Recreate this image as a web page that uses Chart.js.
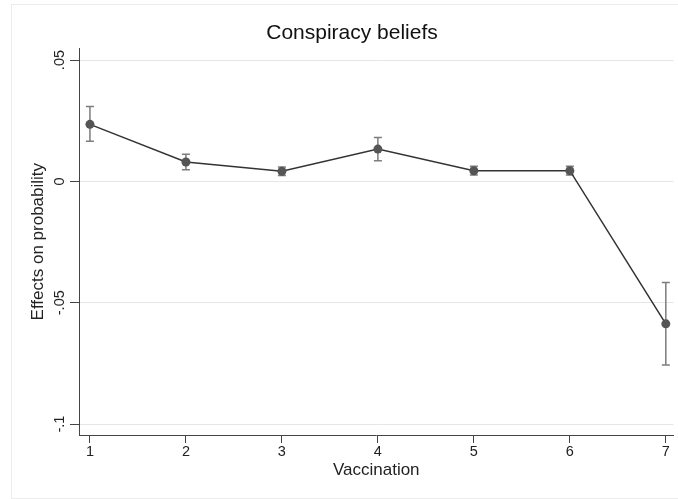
<!DOCTYPE html>
<html>
<head>
<meta charset="utf-8">
<script src="https://cdn.jsdelivr.net/npm/chart.js@4/dist/chart.umd.min.js"></script>
<style>
  body { margin: 0; background: #fff; }
  #frame { position: absolute; left: 11px; top: 4px; width: 700px; height: 493px; border: 1px solid #ececec; }
  #wrap { position: absolute; left: 0; top: 0; width: 678px; height: 499px; }
</style>
</head>
<body>
<div id="frame"></div>
<div id="wrap"><canvas id="chart" width="678" height="499"></canvas></div>
<script>
// values
const categories = [1, 2, 3, 4, 5, 6, 7];
const effects = [0.0235, 0.0080, 0.0042, 0.0133, 0.0044, 0.0044, -0.0587];
const upper = [0.0309, 0.0112, 0.0059, 0.0181, 0.0062, 0.0062, -0.0417];
const lower = [0.0165, 0.0048, 0.0024, 0.0085, 0.0026, 0.0026, -0.0757];
const yTickValues = [-0.1, -0.05, 0, 0.05];
const yTickLabels = ["-.1", "-.05", "0", ".05"];

const FONT = "'Liberation Sans', Arial, sans-serif";

// error bars (rcap), drawn under line and markers
const errorBars = {
    id: "errorBars",
    beforeDatasetsDraw(chart) {
        const { ctx, scales: { x, y } } = chart;
        ctx.save();
        ctx.strokeStyle = "#7d7d7d";
        ctx.lineWidth = 1.5;
        categories.forEach((c, i) => {
            const px = x.getPixelForValue(c);
            const top = y.getPixelForValue(upper[i]);
            const bot = y.getPixelForValue(lower[i]);
            ctx.beginPath();
            ctx.moveTo(px, top); ctx.lineTo(px, bot);
            ctx.moveTo(px - 4, top); ctx.lineTo(px + 4, top);
            ctx.moveTo(px - 4, bot); ctx.lineTo(px + 4, bot);
            ctx.stroke();
        });
        ctx.restore();
    }
};

// vertical y tick labels, Stata style
const yLabels = {
    id: "yLabels",
    afterDraw(chart) {
        const { ctx, scales: { y } } = chart;
        ctx.save();
        ctx.fillStyle = "#222";
        ctx.font = "14.5px " + FONT;
        ctx.textAlign = "center";
        ctx.textBaseline = "middle";
        yTickValues.forEach((v, i) => {
            ctx.save();
            ctx.translate(60, y.getPixelForValue(v));
            ctx.rotate(-Math.PI / 2);
            ctx.fillText(yTickLabels[i], 0, 0);
            ctx.restore();
        });
        ctx.restore();
    }
};

const chart = new Chart(document.getElementById("chart"), {
    type: "line",
    plugins: [errorBars, yLabels],
    data: {
        datasets: [{
            data: categories.map((c, i) => ({ x: c, y: effects[i] })),
            borderColor: "#333",
            borderWidth: 1.5,
            pointRadius: 4.5,
            pointBackgroundColor: "#555",
            pointBorderColor: "#555",
            pointBorderWidth: 0,
            tension: 0,
            clip: false
        }]
    },
    options: {
        responsive: false,
        animation: false,
        layout: { padding: { left: 28, right: 2, top: 0, bottom: 0 } },
        plugins: {
            legend: { display: false },
            tooltip: { enabled: false },
            title: {
                display: true,
                text: "Conspiracy beliefs",
                color: "#111",
                font: { family: FONT, size: 21, weight: "normal", lineHeight: 1.2 },
                padding: { top: 20.8, bottom: 2.4 }
            }
        },
        scales: {
            x: {
                type: "linear",
                min: 0.886,
                max: 7.08,
                afterBuildTicks: s => { s.ticks = categories.map(v => ({ value: v })); },
                afterFit: s => { s.height = 64; },
                grid: { drawOnChartArea: false, drawTicks: true, tickLength: 8, tickColor: "#444" },
                border: { color: "#444", width: 1 },
                ticks: { color: "#222", padding: 0, font: { family: FONT, size: 14.5 }, maxRotation: 0 },
                title: {
                    display: true,
                    text: "Vaccination",
                    color: "#222",
                    font: { family: FONT, size: 17, lineHeight: 1.2 },
                    padding: { top: 0, bottom: 18 }
                }
            },
            y: {
                min: -0.1045,
                max: 0.0548,
                afterBuildTicks: s => { s.ticks = yTickValues.map(v => ({ value: v })); },
                afterFit: s => { s.width = 51; },
                grid: { color: "#e6e6e6", drawTicks: true, tickLength: 9, tickColor: "#444" },
                border: { color: "#444", width: 1 },
                ticks: { display: false },
                title: {
                    display: true,
                    text: "Effects on probability",
                    color: "#222",
                    font: { family: FONT, size: 17, lineHeight: 1.2 },
                    padding: { top: 0, bottom: 0 }
                }
            }
        }
    }
});
</script>
</body>
</html>
